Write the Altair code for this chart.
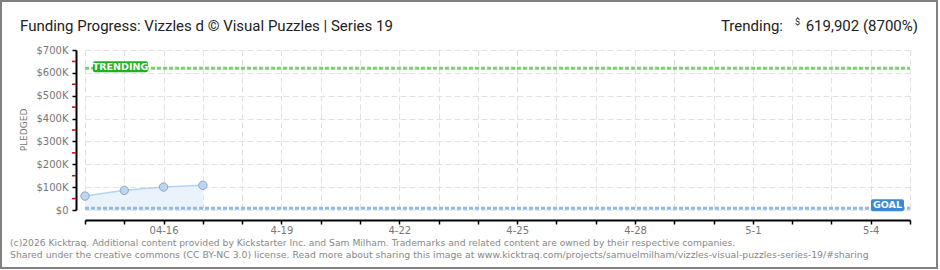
import altair as alt
import pandas as pd

# ---- data ----
dates = ["2026-04-14T00:00:00", "2026-04-15T00:00:00", "2026-04-16T00:00:00", "2026-04-17T00:00:00"]
pledged = [61000, 86000, 100500, 108000]
trending = 619902
goal = 7125
x_domain = [alt.DateTime(year=2026, month=4, date=14), alt.DateTime(year=2026, month=5, date=5)]
tick_days = [(4, d) for d in range(14, 31)] + [(5, d) for d in range(1, 6)]
label_keys = ["4-16", "4-19", "4-22", "4-25", "4-28", "5-1", "5-4"]
label_text = ["04-16", "4-19", "4-22", "4-25", "4-28", "5-1", "5-4"]
y_ticks = [0, 100000, 200000, 300000, 400000, 500000, 600000, 700000]
y_minor = [50000, 150000, 250000, 350000, 450000, 550000, 650000]
title_text = "Funding Progress: Vizzles d  \u00a9 Visual Puzzles | Series 19"
trend_text = ["Trending:", "$", "619,902 (8700%)"]
footer = [
    "(c)2026 Kicktraq. Additional content provided by Kickstarter Inc. and Sam Milham. Trademarks and related content are owned by their respective companies.",
    "Shared under the creative commons (CC BY-NC 3.0) license. Read more about sharing this image at www.kicktraq.com/projects/samuelmilham/vizzles-visual-puzzles-series-19/#sharing",
]

W, H = 825, 160
df = pd.DataFrame({"date": dates, "pledged": pledged})
ref = pd.DataFrame({"trend": [trending], "goal": [goal]})
minor_df = pd.DataFrame({"v": y_minor})
one = pd.DataFrame({"a": [0]})

expr = "''"
for k, t in reversed(list(zip(label_keys, label_text))):
    expr = f"(timeFormat(datum.value, '%-m-%-d') == '{k}' ? '{t}' : {expr})"

LBL = "#777777"
FONT = "DejaVu Sans"

x_scale = alt.Scale(domain=x_domain)
y_scale = alt.Scale(domain=[0, 700000], nice=False, zero=True)

x_axis = alt.Axis(
    values=[alt.DateTime(year=2026, month=m, date=d) for m, d in tick_days],
    labelExpr=expr, title=None, offset=10, domainColor="#000", domainWidth=2,
    tickColor="#000", tickSize=4, tickWidth=1.5, labelColor=LBL, labelFont=FONT,
    labelFontSize=10, labelPadding=1, grid=True, gridColor="#e2e2e2", gridDash=[6, 3],
    labelFlush=False, labelOverlap=False,
)
y_axis = alt.Axis(
    values=y_ticks, labelExpr="datum.value == 0 ? '$0' : '$' + datum.value/1000 + 'K'",
    title=None, offset=9, domainColor="#000", domainWidth=2, tickColor="#000",
    tickSize=4, tickWidth=1.5, labelColor=LBL, labelFont=FONT, labelFontSize=10,
    labelPadding=4, grid=True, gridColor="#e2e2e2", gridDash=[6, 3],
)

X = alt.X("date:T", scale=x_scale, axis=x_axis)
Y = alt.Y("pledged:Q", scale=y_scale, axis=y_axis)

area = alt.Chart(df).mark_area(color="#eaf2fc", opacity=1).encode(x=X, y=Y)
line = alt.Chart(df).mark_line(color="#b7d3f1", strokeWidth=1.5).encode(x=X, y=Y)
pts = alt.Chart(df).mark_point(filled=True, size=70, fill="#bcd6f2", stroke="#8da6c6",
                               strokeWidth=1, opacity=1).encode(x=X, y=Y)

ytrend = alt.Y("trend:Q", scale=y_scale, axis=y_axis)
ygoal = alt.Y("goal:Q", scale=y_scale, axis=y_axis)
trend_line = alt.Chart(ref).mark_rule(color="#7dd06f", strokeWidth=3, strokeDash=[4, 2]).encode(
    y=ytrend, x=alt.value(0), x2=alt.value(W))
goal_line = alt.Chart(ref).mark_rule(color="#92b8e4", strokeWidth=3, strokeDash=[4, 2]).encode(
    y=ygoal, x=alt.value(0), x2=alt.value(W))

trend_box = alt.Chart(ref).mark_rect(color="#1cb41c", cornerRadius=2, yOffset=-7, y2Offset=4).encode(
    y=ytrend, y2="trend:Q", x=alt.value(8), x2=alt.value(63))
trend_lbl = alt.Chart(ref).mark_text(text="TRENDING", color="white", font=FONT, fontSize=9.5,
                                     fontWeight="bold", baseline="middle", align="center", dy=-1.5).encode(
    y=ytrend, x=alt.value(35.5))
goal_box = alt.Chart(ref).mark_rect(color="#3a88d8", cornerRadius=2, yOffset=-9, y2Offset=3).encode(
    y=ygoal, y2="goal:Q", x=alt.value(786), x2=alt.value(819))
goal_lbl = alt.Chart(ref).mark_text(text="GOAL", color="white", font=FONT, fontSize=9.5,
                                    fontWeight="bold", baseline="middle", align="center", dy=-3).encode(
    y=ygoal, x=alt.value(802.5))

minor = alt.Chart(minor_df).mark_rule(color="#e00000", strokeWidth=1.5).encode(
    y=alt.Y("v:Q", scale=y_scale, axis=y_axis), x=alt.value(-13), x2=alt.value(-9))

def txt(text, x, y, size, color, align="left", baseline="alphabetic", font=FONT, angle=0):
    return alt.Chart(one).mark_text(text=text, fontSize=size, color=color, align=align,
                                    baseline=baseline, font=font, angle=angle).encode(
        x=alt.value(x), y=alt.value(y))

TFONT = "Roboto"
title = txt(title_text, -65, -19, 15, "#222222", font=TFONT)
t1 = txt(trend_text[0], 698, -19, 15, "#222222", align="right", font=TFONT)
t2 = txt(trend_text[1], 715, -25, 9, "#222222", align="right", font=TFONT)
t3 = txt(trend_text[2], 833, -19, 15, "#222222", align="right", font=TFONT)
f1 = txt(footer[0], -75, 193, 9.2, "#888888", baseline="middle")
f2 = txt(footer[1], -75, 205, 9.3, "#888888", baseline="middle")
pl = txt("PLEDGED", -61, 80, 9, "#777777", align="center", baseline="middle", angle=270)

border = alt.Chart(one).mark_rect(filled=False, stroke="#808080", strokeWidth=2).encode(
    x=alt.value(-84), x2=alt.value(852), y=alt.value(-49), y2=alt.value(218))

chart = alt.layer(
    area, line, goal_line, trend_line, pts, minor, trend_box, trend_lbl, goal_box, goal_lbl,
    title, t1, t2, t3, f1, f2, pl, border,
).properties(
    width=W, height=H,
    padding={"left": 85, "top": 50, "right": 30, "bottom": 60},
    autosize=alt.AutoSizeParams(type="none"),
    background="white",
).configure_view(stroke=None)

chart.save("out.html", embed_options={"renderer": "svg", "actions": False})
